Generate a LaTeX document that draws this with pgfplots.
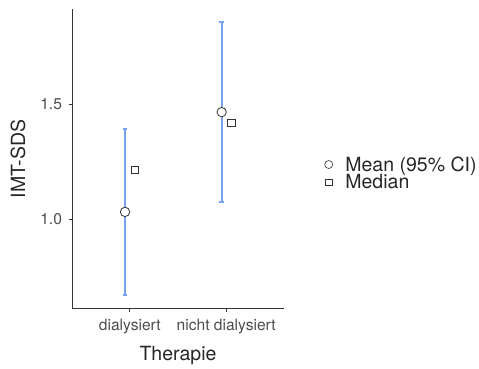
\documentclass[border=0pt]{standalone}
\usepackage{fontspec}
\setmainfont{TeX Gyre Heros}
\usepackage{pgfplots}
\pgfplotsset{compat=1.18}
\definecolor{cibl}{HTML}{76A2EE}
\definecolor{axgrey}{HTML}{333333}
\definecolor{tickgrey}{HTML}{4D4D4D}
\begin{document}
\begin{tikzpicture}[x=1bp,y=1bp]
\useasboundingbox (0,0) rectangle (479,368);
\begin{axis}[
  at={(72bp,59.3bp)}, anchor=south west,
  scale only axis, width=212bp, height=299.4bp,
  xmin=0.4, xmax=2.6, ymin=0.612, ymax=1.911,
  axis lines=left, axis line style={-, axgrey, line width=0.9bp},
  xtick={1,2}, xticklabels={dialysiert, nicht dialysiert},
  ytick={1,1.5},
  /pgf/number format/assume math mode=true,
  tick align=outside, major tick length=3.5bp,
  tick style={axgrey, line width=0.9bp},
  tick label style={font=\fontsize{15.6bp}{17bp}\selectfont, text=tickgrey},
  yticklabel style={xshift=-3bp, /pgf/number format/.cd, fixed, fixed zerofill, precision=1},
  xticklabel style={yshift=-3bp},
  xlabel={Therapie}, ylabel={IMT-SDS},
  label style={font=\fontsize{19.5bp}{23bp}\selectfont, text=black!85},
  xlabel style={at={(axis description cs:0.5,-0.155)}, anchor=center},
  ylabel style={at={(axis description cs:-0.255,0.5)}, anchor=center},
  legend style={at={(axis description cs:1.177,0.452)}, anchor=west, draw=none, fill=none,
    font=\fontsize{19.5bp}{23bp}\selectfont, text=black!85, row sep=-2bp},
  legend cell align=left,
  legend image code/.code={\path (0bp,0bp) (14.5bp,0bp); \draw[#1] plot coordinates {(0bp,0bp)};},
]
\addlegendimage{only marks, mark=*, mark size=4bp, mark options={draw=axgrey, fill=white, line width=0.6bp}}
\addlegendentry{Mean (95\% CI)}
\addlegendimage{only marks, mark=square*, mark size=3.2bp, mark options={draw=axgrey, fill=white, line width=0.6bp}}
\addlegendentry{Median}
\addplot[cibl, line width=2bp, mark=-, mark size=2.2bp, forget plot] coordinates {(0.95,0.672) (0.95,1.392)};
\addplot[cibl, line width=2bp, mark=-, mark size=2.2bp, forget plot] coordinates {(1.953,1.076) (1.953,1.854)};
\addplot[only marks, mark=*, mark size=4.7bp, mark options={draw=axgrey, fill=white, line width=0.8bp}, forget plot] coordinates {(0.95,1.032) (1.953,1.465)};
\addplot[only marks, mark=square*, mark size=3.7bp, mark options={draw=axgrey, fill=white, line width=0.7bp}, forget plot] coordinates {(1.05,1.214) (2.052,1.418)};
\end{axis}
\end{tikzpicture}
\end{document}
